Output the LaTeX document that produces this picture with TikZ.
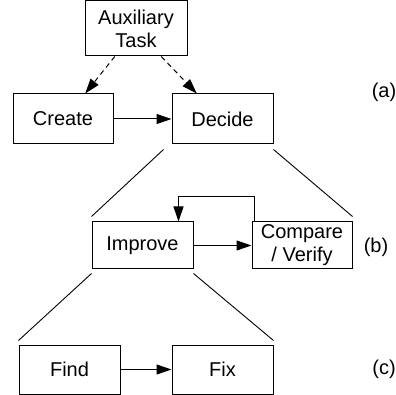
\documentclass[tikz,border=0pt]{standalone}
\usepackage{fontspec}
\setmainfont{Liberation Sans}
\usetikzlibrary{arrows.meta,calc}
\begin{document}
\begin{tikzpicture}[x=1pt,y=-1pt,
  box/.style={draw,line width=1pt,inner sep=0pt,align=center,font=\fontsize{20}{23}\selectfont},
  lbl/.style={inner sep=0pt,font=\fontsize{20}{23}\selectfont},
  arr/.style={line width=1pt,-{Triangle[length=15pt,width=10pt]}},
  zoomline/.style={line width=0.9pt}]
\useasboundingbox (0,0) rectangle (396,395);
\node[box,minimum width=102pt,minimum height=55pt] (aux) at (136,28.5) {Auxiliary\\Task};
\node[box,minimum width=100pt,minimum height=50pt] (create) at (63,119) {Create};
\node[box,minimum width=101pt,minimum height=50pt] (decide) at (222.5,119) {Decide};
\node[box,minimum width=101pt,minimum height=47pt] (improve) at (142.5,245.5) {Improve};
\node[box,minimum width=100pt,minimum height=47pt] (compare) at (302,245.5) {Compare\\/ Verify};
\node[box,minimum width=101pt,minimum height=49pt] (find) at (69.5,369.5) {Find};
\node[box,minimum width=101pt,minimum height=49pt] (fix) at (222.5,369.5) {Fix};
\node[lbl] (la) at (384,92) {(a)};
\node[lbl] (lb) at (376,247) {(b)};
\node[lbl] (lc) at (384,369) {(c)};
% dashed arrows
\draw[arr,dashed,dash pattern=on 5pt off 4pt] ($(aux.south west)!0.294!(aux.south east)$) -- ($(create.north west)!0.72!(create.north east)$);
\draw[arr,dashed,dash pattern=on 5pt off 4pt] ($(aux.south west)!0.745!(aux.south east)$) -- ($(decide.north west)!0.2475!(decide.north east)$);
% solid arrows
\draw[arr] (create.east) -- (decide.west);
\draw[arr] (improve.east) -- (compare.west);
\draw[arr] (find.east) -- (fix.west);
% feedback loop
\coordinate (loopa) at ($(compare.north west)+(3,-25)$);
\draw[arr] ($(compare.north west)+(3,0)$) -- (loopa) -| ($(improve.north west)!0.853!(improve.north east)$);
% zoom lines
\draw[zoomline] ($(decide.south west)+(-8,5)$) -- ($(improve.north west)+(0,-5)$);
\draw[zoomline] ($(decide.south east)+(0,5)$) -- ($(compare.north east)+(0,-5)$);
\draw[zoomline] ($(improve.south west)+(0,4)$) -- ($(find.north west)+(0,-4)$);
\draw[zoomline] ($(improve.south east)+(0,4)$) -- ($(fix.north east)+(0,-4)$);
\end{tikzpicture}
\end{document}
